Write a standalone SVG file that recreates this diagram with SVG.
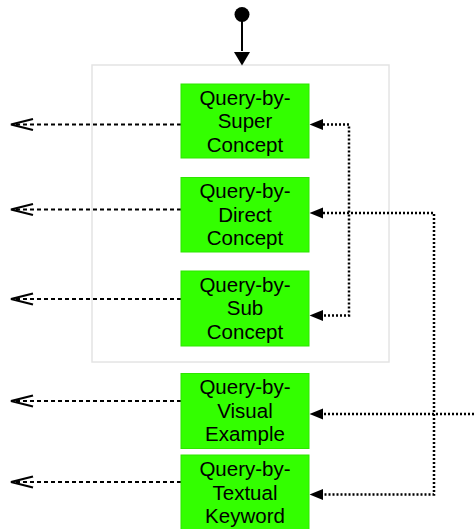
<svg xmlns="http://www.w3.org/2000/svg" width="474" height="529" viewBox="0 0 474 529">
  <defs>
    <style>
      .frame { fill: #ffffff; stroke: #e4e4e4; stroke-width: 1.5; }
      .box { fill: #33ff00; stroke: #2ee600; stroke-width: 1; }
      .label { font-family: "Liberation Sans", Arial, sans-serif; font-size: 20.5px; fill: #000000; text-anchor: middle; }
      .out { fill: none; stroke: #000000; stroke-width: 2; stroke-dasharray: 4 3; }
      .in { fill: none; stroke: #000000; stroke-width: 2.5; stroke-dasharray: 2 2; }
      .solid { fill: none; stroke: #000000; stroke-width: 2; }
      .open { fill: none; stroke: #000000; stroke-width: 2.2; }
    </style>
    <!-- open arrowhead pointing left, tip at origin -->
    <path id="open-head" class="open" d="M22,-5.5 L0,0 L22,5.5"/>
    <!-- filled arrowhead pointing left, tip at origin -->
    <path id="filled-head" d="M0,0 L13.5,-5.5 L13.5,5.5 Z" fill="#000000"/>
  </defs>

  <rect width="474" height="529" fill="#ffffff"/>

  <!-- grouping frame -->
  <rect id="concept-group" class="frame" x="92" y="65" width="297" height="297"/>

  <!-- start point -->
  <g id="start">
    <circle cx="242" cy="14.5" r="7.5" fill="#000000"/>
  </g>

  <g id="connectors">
    <line class="solid" x1="242" y1="15" x2="242" y2="51"/>
    <path d="M234,52 L250,52 L242,65.5 Z" fill="#000000"/>

    <!-- outgoing results -->
    <line class="out" x1="181" y1="124.5" x2="14" y2="124.5"/>
    <use href="#open-head" x="11" y="124.5"/>
    <line class="out" x1="181" y1="209.5" x2="14" y2="209.5"/>
    <use href="#open-head" x="11" y="209.5"/>
    <line class="out" x1="181" y1="299" x2="14" y2="299"/>
    <use href="#open-head" x="11" y="299"/>
    <line class="out" x1="181" y1="401" x2="14" y2="401"/>
    <use href="#open-head" x="11" y="401"/>
    <line class="out" x1="181" y1="482" x2="14" y2="482"/>
    <use href="#open-head" x="11" y="482"/>

    <!-- incoming refinements -->
    <path class="in" d="M323,124.5 H349 V315.5 H323"/>
    <use href="#filled-head" x="309.5" y="124.5"/>
    <use href="#filled-head" x="309.5" y="315.5"/>

    <path class="in" d="M323,213 H434 V494.5 H323"/>
    <use href="#filled-head" x="309.5" y="213"/>
    <use href="#filled-head" x="309.5" y="494.5"/>

    <path class="in" d="M474,414 H323"/>
    <use href="#filled-head" x="309.5" y="414"/>
  </g>

  <g id="super-concept">
    <rect class="box" x="181" y="84" width="128" height="74"/>
    <text class="label"><tspan x="245" y="104.5">Query-by-</tspan><tspan x="245" y="128">Super</tspan><tspan x="245" y="151.5">Concept</tspan></text>
  </g>

  <g id="direct-concept">
    <rect class="box" x="181" y="177.5" width="128" height="74.5"/>
    <text class="label"><tspan x="245" y="198">Query-by-</tspan><tspan x="245" y="221.5">Direct</tspan><tspan x="245" y="245">Concept</tspan></text>
  </g>

  <g id="sub-concept">
    <rect class="box" x="181" y="271" width="128" height="75"/>
    <text class="label"><tspan x="245" y="291.5">Query-by-</tspan><tspan x="245" y="315">Sub</tspan><tspan x="245" y="338.5">Concept</tspan></text>
  </g>

  <g id="visual-example">
    <rect class="box" x="181" y="373.5" width="128" height="75"/>
    <text class="label"><tspan x="245" y="394">Query-by-</tspan><tspan x="245" y="417.5">Visual</tspan><tspan x="245" y="441">Example</tspan></text>
  </g>

  <g id="textual-keyword">
    <rect class="box" x="181" y="455" width="128" height="76"/>
    <text class="label"><tspan x="245" y="476">Query-by-</tspan><tspan x="245" y="499.5">Textual</tspan><tspan x="245" y="523">Keyword</tspan></text>
  </g>
</svg>
